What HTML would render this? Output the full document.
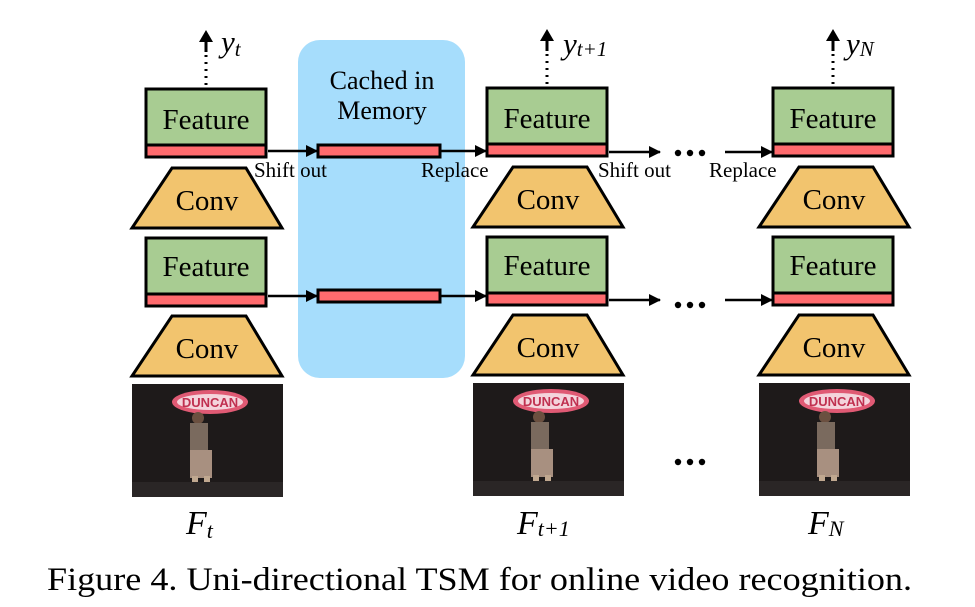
<!DOCTYPE html>
<html><head><meta charset="utf-8"><style>
html,body{margin:0;padding:0;background:#fff;width:975px;height:607px;overflow:hidden}
svg{display:block;font-family:"Liberation Serif",serif}
</style></head><body>
<svg width="975" height="607" viewBox="0 0 975 607" xmlns="http://www.w3.org/2000/svg">
<defs>
<marker id="ah" markerWidth="12" markerHeight="12" refX="11" refY="6" orient="auto" markerUnits="userSpaceOnUse">
<path d="M0,0 L12,6 L0,12 z" fill="#000"/></marker>
<g id="col">
  <rect x="0" y="89" width="120" height="56" fill="#a8cc92" stroke="#000" stroke-width="3"/>
  <rect x="0" y="145" width="120" height="12" fill="#ff6b6e" stroke="#000" stroke-width="3"/>
  <text x="60" y="129" font-size="29" text-anchor="middle">Feature</text>
  <polygon points="26,168 100,168 136,228 -14,228" fill="#f2c46e" stroke="#000" stroke-width="3"/>
  <text x="61" y="210" font-size="29" text-anchor="middle">Conv</text>
  <rect x="0" y="238" width="120" height="56" fill="#a8cc92" stroke="#000" stroke-width="3"/>
  <rect x="0" y="294" width="120" height="12" fill="#ff6b6e" stroke="#000" stroke-width="3"/>
  <text x="60" y="276" font-size="29" text-anchor="middle">Feature</text>
  <polygon points="26,316 100,316 136,376 -14,376" fill="#f2c46e" stroke="#000" stroke-width="3"/>
  <text x="61" y="358" font-size="29" text-anchor="middle">Conv</text>
  <line x1="60" y1="85" x2="60" y2="48" stroke="#000" stroke-width="3" stroke-dasharray="2,5"/>
  <line x1="60" y1="52" x2="60" y2="38" stroke="#000" stroke-width="3"/>
  <path d="M53,42 L60,30 L67,42 z" fill="#000"/>
  <rect x="-14" y="384" width="151" height="113" fill="#1e1a1a"/>
  <ellipse cx="64" cy="402" rx="38" ry="12" fill="#e05a74"/>
  <ellipse cx="64" cy="402" rx="33" ry="8" fill="#f4d4dc"/>
  <text x="64" y="407" font-size="13" font-weight="bold" text-anchor="middle" fill="#c03050" font-family="Liberation Sans,sans-serif">DUNCAN</text>
  <circle cx="52" cy="418" r="6" fill="#6b5040"/>
  <rect x="44" y="423" width="18" height="30" fill="#7a6a5e"/>
  <rect x="44" y="450" width="22" height="28" fill="#a89080"/>
  <rect x="46" y="476" width="6" height="18" fill="#c0a890"/>
  <rect x="58" y="476" width="6" height="18" fill="#c0a890"/>
  <rect x="-14" y="482" width="151" height="15" fill="#2a2626"/>
</g>
</defs>

<rect x="298" y="40" width="167" height="338" rx="22" fill="#a6ddfc"/>
<text x="382" y="89" font-size="26" text-anchor="middle">Cached in</text>
<text x="382" y="119" font-size="26" text-anchor="middle">Memory</text>
<rect x="318" y="145" width="122" height="12" fill="#ff6b6e" stroke="#000" stroke-width="3"/>
<rect x="318" y="290" width="122" height="12" fill="#ff6b6e" stroke="#000" stroke-width="3"/>

<use href="#col" x="146" y="0"/>
<use href="#col" x="487" y="-1"/>
<use href="#col" x="773" y="-1"/>

<line x1="268" y1="151" x2="317" y2="151" stroke="#000" stroke-width="2.5" marker-end="url(#ah)"/>
<line x1="441" y1="151" x2="486" y2="151" stroke="#000" stroke-width="2.5" marker-end="url(#ah)"/>
<line x1="609" y1="152" x2="660" y2="152" stroke="#000" stroke-width="2.5" marker-end="url(#ah)"/>
<line x1="725" y1="152" x2="772" y2="152" stroke="#000" stroke-width="2.5" marker-end="url(#ah)"/>
<line x1="268" y1="296" x2="317" y2="296" stroke="#000" stroke-width="2.5" marker-end="url(#ah)"/>
<line x1="441" y1="296" x2="486" y2="296" stroke="#000" stroke-width="2.5" marker-end="url(#ah)"/>
<line x1="609" y1="300" x2="660" y2="300" stroke="#000" stroke-width="2.5" marker-end="url(#ah)"/>
<line x1="725" y1="300" x2="772" y2="300" stroke="#000" stroke-width="2.5" marker-end="url(#ah)"/>

<g fill="#000">
<circle cx="678" cy="153" r="3.2"/><circle cx="690" cy="153" r="3.2"/><circle cx="702" cy="153" r="3.2"/>
<circle cx="678" cy="305" r="3.2"/><circle cx="690" cy="305" r="3.2"/><circle cx="702" cy="305" r="3.2"/>
<circle cx="678" cy="462" r="3.2"/><circle cx="690" cy="462" r="3.2"/><circle cx="702" cy="462" r="3.2"/>
</g>

<g font-size="21">
<text x="254" y="177">Shift out</text>
<text x="421" y="177">Replace</text>
<text x="598" y="177">Shift out</text>
<text x="709" y="177">Replace</text>
</g>

<g font-style="italic">
<text x="221" y="52" font-size="31">y<tspan font-size="21" dy="4">t</tspan></text>
<text x="563" y="54" font-size="31">y<tspan font-size="21" dy="2">t+1</tspan></text>
<text x="846" y="54" font-size="31">y<tspan font-size="21" dy="2">N</tspan></text>
</g>

<g font-style="italic">
<text x="186" y="534" font-size="34">F<tspan font-size="22" dy="4">t</tspan></text>
<text x="517" y="534" font-size="34">F<tspan font-size="22" dy="2">t+1</tspan></text>
<text x="808" y="534" font-size="34">F<tspan font-size="22" dy="2">N</tspan></text>
</g>

<text x="47" y="590" font-size="33" textLength="865" lengthAdjust="spacingAndGlyphs">Figure 4. Uni-directional TSM for online video recognition.</text>
</svg>
</body></html>
